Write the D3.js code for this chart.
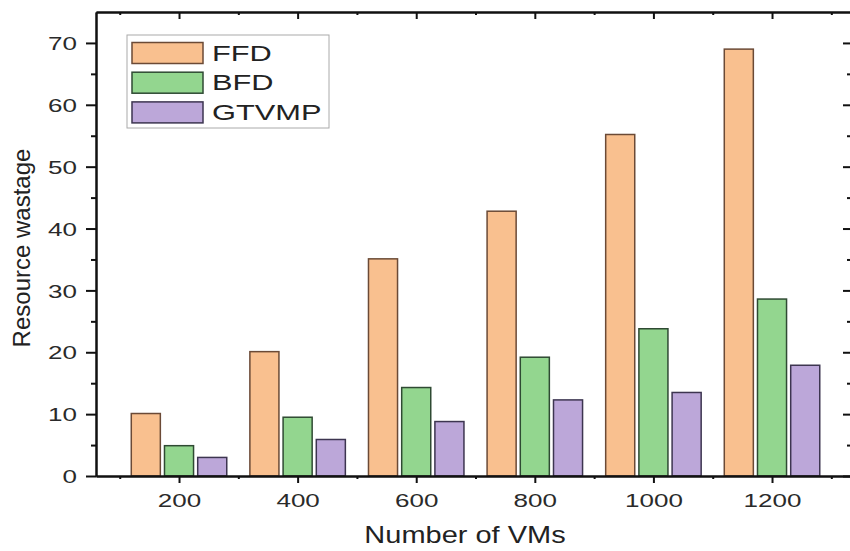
<!DOCTYPE html>
<html>
<head>
<meta charset="utf-8">
<script src="https://cdn.jsdelivr.net/npm/d3@7"></script>
<style>
  body { margin: 0; background: #fff; }
  text { font-family: "Liberation Sans", Arial, sans-serif; fill: #222; }
</style>
</head>
<body>
<div id="chart"></div>
<script>
var vms = [200, 400, 600, 800, 1000, 1200];
var series = ["FFD", "BFD", "GTVMP"];
var ffd = [10.1, 20.1, 35.1, 42.8, 55.2, 69.0];
var bfd = [4.9, 9.5, 14.3, 19.2, 23.8, 28.6];
var gtvmp = [3.0, 5.9, 8.8, 12.3, 13.5, 17.9];
var yTicks = [0, 10, 20, 30, 40, 50, 60, 70];

var colors = {FFD: "#f9c08f", BFD: "#93d68f", GTVMP: "#bca7d9"};
var strokes = {FFD: "#6b4a36", BFD: "#2f4a33", GTVMP: "#3d3550"};
var values = {FFD: ffd, BFD: bfd, GTVMP: gtvmp};

var width = 850, height = 551;
var plotL = 96, plotR = 851, plotT = 12, plotB = 476;
var sx = 1.4; // the text in the picture is wide

var svg = d3.select("#chart")
    .append("svg")
    .attr("width", width)
    .attr("height", height);

var xScale = d3.scaleLinear().domain([60, 1340]).range([plotL, plotL + 1280 * 0.593]);
var yScale = d3.scaleLinear().domain([0, 75]).range([plotB, plotT]);

var step = xScale(300) - xScale(200);
var barW = step * 0.49;
var offset = {FFD: -step * 0.56, BFD: 0, GTVMP: step * 0.56};

// bars
series.forEach(function (s) {
    svg.append("g")
        .selectAll("rect")
        .data(vms)
        .enter()
        .append("rect")
        .attr("x", function (d) { return xScale(d) + offset[s] - barW / 2; })
        .attr("y", function (d, i) { return yScale(values[s][i]); })
        .attr("width", barW)
        .attr("height", function (d, i) { return yScale(0) - yScale(values[s][i]); })
        .style("fill", colors[s])
        .style("stroke", strokes[s])
        .style("stroke-width", 1.5);
});

var minorX = d3.range(100, 1400, 200);
var minorY = d3.range(5, 75, 10);

// bottom axis
var gx = svg.append("g").attr("transform", "translate(0," + plotB + ")");
gx.call(d3.axisBottom(xScale).tickValues(vms).tickSize(7).tickSizeOuter(0).tickFormat(d3.format("d")));
gx.append("g").call(d3.axisBottom(xScale).tickValues(minorX).tickSize(3).tickSizeOuter(0).tickFormat(""));

// top axis (mirror)
var gt = svg.append("g").attr("transform", "translate(0," + plotT + ")");
gt.call(d3.axisBottom(xScale).tickValues(vms).tickSize(7).tickSizeOuter(0).tickFormat(""));
gt.append("g").call(d3.axisBottom(xScale).tickValues(minorX).tickSize(3).tickSizeOuter(0).tickFormat(""));

// left axis
var gy = svg.append("g").attr("transform", "translate(" + plotL + ",0)");
gy.call(d3.axisLeft(yScale).tickValues(yTicks).tickSize(10).tickSizeOuter(0));
gy.append("g").call(d3.axisLeft(yScale).tickValues(minorY).tickSize(5).tickSizeOuter(0).tickFormat(""));

// right axis (mirror), its line falls just off the picture
var gr = svg.append("g").attr("transform", "translate(" + plotR + ",0)");
gr.call(d3.axisLeft(yScale).tickValues(yTicks).tickSize(8).tickSizeOuter(0).tickFormat(""));
gr.append("g").call(d3.axisLeft(yScale).tickValues(minorY).tickSize(4).tickSizeOuter(0).tickFormat(""));

svg.selectAll(".domain").style("stroke", "#111").style("stroke-width", 2);
svg.selectAll(".tick line").style("stroke", "#111").style("stroke-width", 2);
svg.selectAll(".tick text")
    .style("font-size", "18.6px")
    .style("font-family", "Liberation Sans, Arial, sans-serif")
    .style("fill", "#2a2a2a");

gx.selectAll(".tick text")
    .attr("y", 31)
    .attr("dy", 0)
    .attr("transform", "scale(" + sx + ",1)");

gy.selectAll(".tick text")
    .attr("x", -19 / sx)
    .attr("dy", "0.36em")
    .attr("transform", "scale(" + sx + ",1)");

// axis titles
svg.append("text")
    .attr("transform", "translate(465,543) scale(1.26,1)")
    .attr("text-anchor", "middle")
    .style("font-size", "23px")
    .text("Number of VMs");

svg.append("text")
    .attr("transform", "translate(29.5,248) rotate(-90)")
    .attr("text-anchor", "middle")
    .style("font-size", "24px")
    .text("Resource wastage");

// legend
var legend = svg.append("g");
legend.append("rect")
    .attr("x", 127).attr("y", 35)
    .attr("width", 202).attr("height", 93)
    .style("fill", "#fff")
    .style("stroke", "#aaa")
    .style("stroke-width", 1);

series.forEach(function (s, i) {
    var y0 = 42.5 + i * 29.7;
    legend.append("rect")
        .attr("x", 132).attr("y", y0)
        .attr("width", 71).attr("height", 21)
        .style("fill", colors[s])
        .style("stroke", strokes[s])
        .style("stroke-width", 1.5);
    legend.append("text")
        .attr("transform", "translate(212," + (y0 + 18) + ") scale(" + sx + ",1)")
        .style("font-size", "22px")
        .text(s);
});
</script>
</body>
</html>
